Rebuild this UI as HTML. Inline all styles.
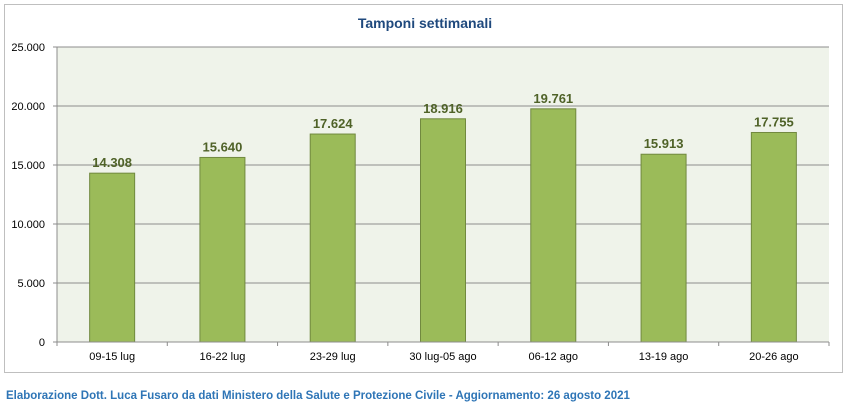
<!DOCTYPE html>
<html><head><meta charset="utf-8"><style>
body{margin:0;background:#fff;width:850px;height:405px;overflow:hidden;font-family:"Liberation Sans",sans-serif}
</style></head><body>
<svg width="850" height="405" xmlns="http://www.w3.org/2000/svg">
<rect x="4.5" y="4.5" width="838" height="368" fill="#fff" stroke="#bfbfbf"/>
<text x="425" y="28" text-anchor="middle" font-size="14" font-weight="bold" fill="#1f497d">Tamponi settimanali</text>
<rect x="57" y="47" width="772" height="295" fill="#eff3ea"/>
<g id="grid"></g><g id="bars"></g><g id="axes"></g>
<text x="6" y="399" font-size="11.5" font-weight="bold" fill="#2e75b6">Elaborazione Dott. Luca Fusaro da dati Ministero della Salute e Protezione Civile - Aggiornamento: 26 agosto 2021</text>
</svg>
<script>
const categories=["09-15 lug","16-22 lug","23-29 lug","30 lug-05 ago","06-12 ago","13-19 ago","20-26 ago"];
const values=[14308,15640,17624,18916,19761,15913,17755];
const valueLabels=["14.308","15.640","17.624","18.916","19.761","15.913","17.755"];
const yTicks=[0,5000,10000,15000,20000,25000];
const yTickLabels=["0","5.000","10.000","15.000","20.000","25.000"];
const NS="http://www.w3.org/2000/svg";
const L=57,R=829,T=47,B=342,maxV=25000;
const y=v=>B-(v/maxV)*(B-T);
const band=(R-L)/categories.length;
const x=i=>L+band*i+band/2;
function mk(t,a,p){const e=document.createElementNS(NS,t);for(const k in a)e.setAttribute(k,a[k]);p.appendChild(e);return e;}
const g=document.getElementById('grid'),b=document.getElementById('bars'),ax=document.getElementById('axes');
yTicks.forEach((v,i)=>{
 if(v>0){const l=mk('line',{x1:L,x2:R,y1:y(v),y2:y(v),stroke:'#8c8c8c','stroke-width':1},g);
 
 }
 const tk=mk('line',{x1:L-4,x2:L,y1:y(v),y2:y(v),stroke:'#8c8c8c'},ax);
 
 
 const t=mk('text',{x:L-12,y:y(v)+4,'text-anchor':'end','font-size':11,fill:'#000'},ax);
 t.textContent=yTickLabels[i];
 
 
});
const al=mk('line',{x1:L,x2:L,y1:T,y2:B,stroke:'#8c8c8c'},ax);


const xl=mk('line',{x1:L,x2:R,y1:B,y2:B,stroke:'#8c8c8c'},ax);


for(let i=0;i<=categories.length;i++){const tk=mk('line',{x1:L+band*i,x2:L+band*i,y1:B,y2:B+4,stroke:'#8c8c8c'},ax);
 
 }
const bw=45;
categories.forEach((c,i)=>{
 const r=mk('rect',{x:x(i)-bw/2,y:y(values[i]),width:bw,height:B-y(values[i]),fill:'#9bbb59',stroke:'#71893f','stroke-width':1},b);
 
 
 const t=mk('text',{x:x(i),y:y(values[i])-6,'text-anchor':'middle','font-size':13,'font-weight':'bold',fill:'#4f6228'},b);
 t.textContent=valueLabels[i];
 
 
 const xt=mk('text',{x:x(i),y:B+18,'text-anchor':'middle','font-size':11,fill:'#000'},ax);
 xt.textContent=c;
 
 
});
</script>
</body></html>
